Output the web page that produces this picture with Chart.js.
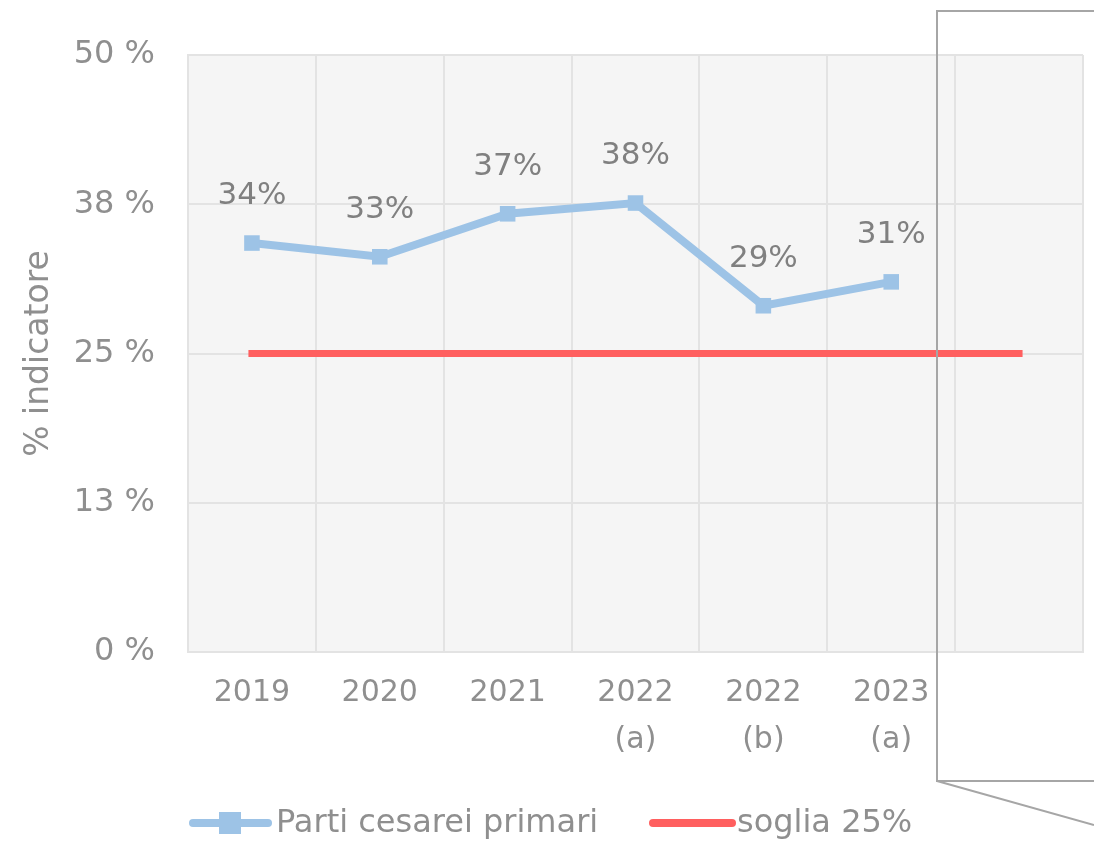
<!DOCTYPE html>
<html><head><meta charset="utf-8">
<script src="https://cdn.jsdelivr.net/npm/chart.js@4/dist/chart.umd.min.js"></script>
<style>html,body{margin:0;padding:0;background:#fff}#wrap{width:1094px;height:843px}</style>
</head><body><div id="wrap"><canvas id="c" width="1094" height="843"></canvas></div>
<script>
const categories = [['2019'], ['2020'], ['2021'], ['2022','(a)'], ['2022','(b)'], ['2023','(a)'], ['']];
const cesareiValues = [34.25, 33.1, 36.7, 37.6, 29.0, 31.0, null];
const cesareiLabels = ['34%', '33%', '37%', '38%', '29%', '31%'];
const sogliaValues = [25, 25, 25, 25, 25, 25, 25];
const yTicks = [0, 12.5, 25, 37.5, 50];
const seriesNames = ['Parti cesarei primari', 'soglia 25%'];
const axisTitle = '% indicatore';

const FONT = '"DejaVu Sans", sans-serif';
const GRAY = '#8f8f8f';
const BLUE = '#9dc3e6';
const RED = '#ff5f5f';

const bgPlugin = {
  id: 'bg',
  beforeDraw(chart) {
    const {ctx, chartArea: a} = chart;
    ctx.save();
    ctx.fillStyle = '#f5f5f5';
    ctx.fillRect(a.left, a.top, a.right - a.left, a.bottom - a.top);
    ctx.restore();
  },
  afterDatasetsDraw(chart) {
    const ctx = chart.ctx;
    const meta = chart.getDatasetMeta(0);
    ctx.save();
    ctx.font = '31px ' + FONT;
    ctx.fillStyle = '#808080';
    ctx.textAlign = 'center';
    ctx.textBaseline = 'middle';
    meta.data.forEach((pt, i) => {
      if (cesareiValues[i] == null) return;
      ctx.fillText(cesareiLabels[i], pt.x, pt.y - 47);
    });
    ctx.restore();
  },
  afterDraw(chart) {
    const ctx = chart.ctx;
    ctx.save();
    const ly = 823;
    ctx.lineCap = 'round';
    ctx.strokeStyle = BLUE; ctx.lineWidth = 8;
    ctx.beginPath(); ctx.moveTo(193, ly); ctx.lineTo(268, ly); ctx.stroke();
    ctx.fillStyle = BLUE; ctx.fillRect(219, ly - 11, 22, 22);
    ctx.strokeStyle = RED; ctx.lineWidth = 8;
    ctx.beginPath(); ctx.moveTo(653, ly); ctx.lineTo(732, ly); ctx.stroke();
    ctx.font = '32px ' + FONT;
    ctx.fillStyle = GRAY;
    ctx.textBaseline = 'middle';
    ctx.textAlign = 'left';
    ctx.fillText(seriesNames[0], 276, ly + 1);
    ctx.fillText(seriesNames[1], 737, ly + 1);
    ctx.strokeStyle = '#a6a6a6'; ctx.lineWidth = 2; ctx.lineCap = 'butt';
    ctx.beginPath();
    ctx.moveTo(1094, 11); ctx.lineTo(937, 11); ctx.lineTo(937, 781); ctx.lineTo(1094, 781);
    ctx.moveTo(937, 781); ctx.lineTo(1094, 825);
    ctx.stroke();
    ctx.restore();
  }
};

new Chart(document.getElementById('c'), {
  type: 'line',
  data: {
    labels: categories,
    datasets: [
      { label: seriesNames[0], data: cesareiValues, borderColor: BLUE, backgroundColor: BLUE,
        borderWidth: 8, pointStyle: 'rect', pointRadius: 11, pointHoverRadius: 11, pointBorderWidth: 0,
        tension: 0, spanGaps: false },
      { label: seriesNames[1], data: sogliaValues, borderColor: RED, backgroundColor: RED,
        borderWidth: 7, pointRadius: 0, tension: 0, borderCapStyle: 'square' }
    ]
  },
  options: {
    responsive: false,
    animation: false,
    events: [],
    layout: { padding: { top: 55, right: 9, bottom: 68, left: 0 } },
    plugins: { legend: { display: false }, tooltip: { enabled: false } },
    scales: {
      x: {
        offset: true,
        grid: { offset: true, color: '#e3e3e3', lineWidth: 2, drawTicks: false },
        border: { color: '#e3e3e3', width: 2 },
        ticks: { color: GRAY, font: { family: FONT, size: 30, lineHeight: 1.55 }, padding: 18, maxRotation: 0, autoSkip: false },
        afterFit(s) { s.height = 123; }
      },
      y: {
        min: 0, max: 50,
        afterBuildTicks(s) { s.ticks = yTicks.map(v => ({ value: v })); },
        grid: { color: '#e3e3e3', lineWidth: 2, drawTicks: false },
        border: { color: '#e3e3e3', width: 2 },
        ticks: { color: GRAY, font: { family: FONT, size: 32 }, padding: 33,
          callback: v => Math.round(v) + ' %' },
        title: { display: true, text: axisTitle, color: GRAY, font: { family: FONT, size: 33 }, padding: { top: 20, bottom: 0 } },
        afterFit(s) { s.width = 188; }
      }
    }
  },
  plugins: [bgPlugin]
});
</script></body></html>
